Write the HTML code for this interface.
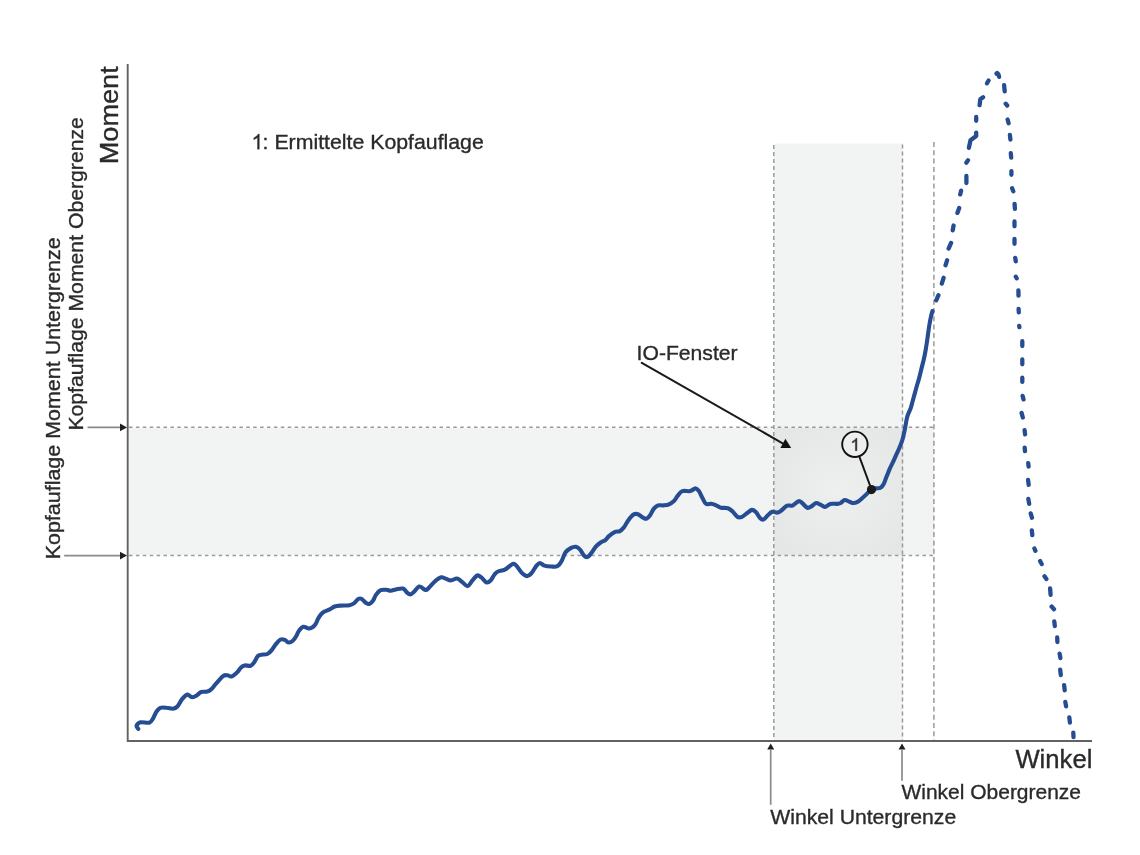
<!DOCTYPE html>
<html><head><meta charset="utf-8"><title>Kopfauflage Diagramm</title>
<style>
html,body{margin:0;padding:0;background:#fff;}
svg{display:block;will-change:transform;}
text{font-family:"Liberation Sans", sans-serif;fill:#2a2a2a;stroke:#2a2a2a;stroke-width:0.35px;}
</style></head>
<body>
<svg width="1140" height="855" viewBox="0 0 1140 855">
<rect x="0" y="0" width="1140" height="855" fill="#ffffff"/>
<!-- shaded bands -->
<rect x="129" y="428" width="805" height="127" fill="#f2f3f3"/>
<rect x="774" y="143.5" width="129" height="597" fill="#f2f3f3"/>
<defs><radialGradient id="ig" cx="0.5" cy="0.5" r="0.62"><stop offset="0" stop-color="#eeefef"/><stop offset="1" stop-color="#e5e6e6"/></radialGradient></defs>
<rect x="774" y="428" width="129" height="127" fill="url(#ig)"/>
<!-- dashed limit lines -->
<g stroke="#9a9a9a" stroke-width="1.5" fill="none">
<line x1="129" y1="427.3" x2="934" y2="427.3" stroke-dasharray="3.5 3.4"/>
<line x1="129" y1="555.6" x2="934" y2="555.6" stroke-dasharray="3.5 3.4"/>
<line x1="773.8" y1="145" x2="773.8" y2="740" stroke-dasharray="4 3"/>
<line x1="902.5" y1="144.5" x2="902.5" y2="740" stroke-dasharray="4 3"/>
<line x1="933.9" y1="142" x2="933.9" y2="740" stroke-dasharray="5 3.3"/>
</g>
<!-- axes -->
<g stroke="#626262" stroke-width="1.9" fill="none">
<line x1="127.7" y1="64" x2="127.7" y2="742"/>
<line x1="127" y1="741" x2="1092" y2="741"/>
</g>
<!-- left arrows -->
<g stroke="#8a8a8a" stroke-width="1.9" fill="none">
<line x1="87.5" y1="427.4" x2="121" y2="427.4"/>
<line x1="64.2" y1="555.6" x2="121" y2="555.6"/>
</g>
<g fill="#1e1e1e">
<polygon points="120,423.6 127,427.4 120,431.2"/>
<polygon points="120,551.8 127,555.6 120,559.4"/>
<!-- bottom arrows -->
<polygon points="770.7,743.4 767.2,749.6 774.2,749.6"/>
<polygon points="902,743.4 898.5,749.6 905.5,749.6"/>
</g>
<g stroke="#8a8a8a" stroke-width="1.7">
<line x1="770.7" y1="749" x2="770.7" y2="804.8"/>
<line x1="902" y1="749" x2="902" y2="780.8"/>
</g>
<!-- curve -->
<path d="M138.3,728.9 C138.0,728.4 136.2,726.9 136.6,725.8 C137.0,724.7 138.4,722.8 140.5,722.3 C142.6,721.8 147.2,723.3 149.3,722.7 C151.4,722.1 151.6,720.6 152.8,718.8 C154.0,717.0 155.1,713.6 156.3,711.8 C157.6,710.0 158.6,708.5 160.3,707.8 C162.1,707.1 164.7,707.6 166.8,707.8 C168.9,707.9 171.2,708.9 173.0,708.7 C174.8,708.5 175.9,708.0 177.4,706.5 C178.9,705.0 180.4,701.4 181.8,699.5 C183.2,697.6 185.1,695.9 186.1,695.1 C187.1,694.3 186.9,694.2 187.9,694.6 C188.9,695.0 190.8,697.1 192.3,697.3 C193.8,697.4 195.2,696.4 196.7,695.5 C198.2,694.6 199.3,692.6 201.1,692.0 C202.8,691.4 205.5,692.0 207.2,691.6 C208.9,691.2 209.6,690.7 211.1,689.4 C212.6,688.1 214.0,685.9 216.0,683.7 C218.0,681.5 221.1,677.6 223.0,676.2 C224.9,674.8 226.0,675.2 227.4,675.2 C228.8,675.2 229.7,677.0 231.4,676.5 C233.1,676.0 235.9,673.4 237.5,671.9 C239.1,670.4 239.8,668.6 241.0,667.5 C242.2,666.4 243.0,665.7 244.6,665.4 C246.2,665.1 249.1,666.3 250.7,665.8 C252.3,665.3 253.0,663.9 254.2,662.3 C255.4,660.7 256.5,657.4 257.7,656.1 C258.9,654.9 259.6,655.1 261.2,654.8 C262.8,654.4 265.6,654.8 267.4,654.0 C269.2,653.2 270.4,651.7 271.8,650.0 C273.2,648.3 274.7,645.6 276.1,643.9 C277.6,642.1 279.0,640.2 280.5,639.5 C282.0,638.8 283.6,639.4 284.9,639.9 C286.2,640.4 287.1,642.4 288.4,642.5 C289.7,642.6 291.5,641.9 292.8,640.8 C294.1,639.7 295.3,637.7 296.3,636.0 C297.3,634.3 297.8,632.2 299.0,630.7 C300.2,629.2 301.7,627.2 303.3,626.8 C304.9,626.4 307.1,628.4 308.6,628.5 C310.1,628.6 310.9,628.2 312.1,627.5 C313.3,626.8 314.6,625.6 315.6,624.1 C316.6,622.6 317.3,620.1 318.2,618.5 C319.1,616.9 320.0,615.4 321.0,614.3 C322.0,613.2 322.5,612.7 324.0,611.8 C325.5,610.9 328.4,610.0 330.2,609.1 C332.0,608.2 332.9,607.1 334.6,606.5 C336.4,605.9 338.2,605.8 340.7,605.6 C343.2,605.4 347.3,605.6 349.5,605.2 C351.7,604.8 352.4,604.4 353.9,603.4 C355.3,602.4 356.9,599.7 358.2,599.0 C359.5,598.3 360.5,598.3 361.8,599.0 C363.1,599.7 364.8,602.2 366.1,603.0 C367.4,603.8 368.4,604.3 369.6,603.9 C370.8,603.5 372.2,601.9 373.2,600.4 C374.2,598.9 374.6,596.8 375.8,595.1 C377.0,593.4 378.4,591.2 380.2,590.3 C381.9,589.4 384.6,589.7 386.3,589.8 C388.1,589.9 389.1,590.8 390.7,590.7 C392.3,590.6 393.9,589.8 396.0,589.4 C398.1,589.0 401.2,588.1 403.0,588.6 C404.8,589.1 405.8,591.6 407.0,592.6 C408.2,593.6 409.3,594.5 410.5,594.4 C411.7,594.3 412.5,593.1 414.0,591.8 C415.5,590.5 417.4,586.8 419.3,586.5 C421.2,586.2 423.8,589.8 425.4,590.0 C427.0,590.2 427.3,589.3 428.9,587.8 C430.5,586.3 433.1,583.0 435.1,581.2 C437.2,579.5 439.4,577.7 441.2,577.3 C442.9,576.9 444.0,578.1 445.6,578.6 C447.2,579.1 449.0,580.4 450.9,580.4 C452.8,580.4 455.1,578.3 457.0,578.6 C458.9,578.9 460.6,580.9 462.3,582.1 C464.1,583.4 465.9,586.2 467.5,586.1 C469.1,586.0 470.3,583.0 471.9,581.2 C473.5,579.4 475.6,576.1 477.2,575.5 C478.8,574.9 480.0,576.5 481.6,577.7 C483.2,578.9 485.2,582.1 486.8,582.5 C488.4,582.9 489.7,581.3 491.0,580.0 C492.3,578.7 493.3,575.9 494.5,574.5 C495.7,573.1 496.3,572.3 498.0,571.5 C499.7,570.7 502.4,570.9 504.9,569.6 C507.4,568.3 510.9,564.6 512.8,563.9 C514.7,563.2 514.8,564.1 516.3,565.6 C517.8,567.1 519.9,570.9 521.6,572.6 C523.4,574.4 525.2,576.0 526.8,576.1 C528.4,576.2 529.6,575.2 531.2,573.5 C532.8,571.8 535.0,567.4 536.5,565.6 C538.0,563.9 538.7,563.0 540.0,563.0 C541.3,563.0 542.5,565.0 544.4,565.6 C546.3,566.2 549.2,566.4 551.4,566.5 C553.6,566.6 555.8,567.1 557.5,566.1 C559.2,565.1 560.6,562.7 561.9,560.4 C563.2,558.1 563.9,554.5 565.4,552.5 C566.9,550.5 568.9,549.1 570.7,548.1 C572.5,547.1 574.4,546.5 576.0,546.8 C577.6,547.1 579.1,548.5 580.4,550.0 C581.7,551.5 582.7,554.3 583.9,555.5 C585.1,556.7 586.2,557.3 587.4,557.0 C588.6,556.7 589.6,555.2 591.0,553.5 C592.4,551.8 594.1,548.6 595.8,546.7 C597.5,544.8 599.4,543.4 601.0,542.3 C602.6,541.2 604.1,541.1 605.4,540.1 C606.7,539.1 607.3,537.5 608.9,536.1 C610.5,534.7 613.3,532.6 615.1,531.8 C616.9,531.0 618.0,532.0 619.5,531.3 C621.0,530.6 622.4,529.2 623.9,527.4 C625.4,525.6 626.6,522.5 628.2,520.4 C629.8,518.3 631.9,515.6 633.5,514.6 C635.1,513.6 636.3,513.7 637.9,514.2 C639.5,514.7 641.7,517.0 643.2,517.7 C644.7,518.4 645.5,519.0 646.7,518.6 C647.9,518.2 649.0,516.7 650.2,515.1 C651.4,513.5 652.4,510.5 653.7,508.9 C655.0,507.3 656.5,506.0 658.1,505.4 C659.7,504.8 661.5,505.6 663.3,505.4 C665.1,505.2 667.2,505.1 669.0,504.3 C670.8,503.5 672.7,502.1 674.2,500.7 C675.7,499.2 676.4,497.2 677.8,495.6 C679.1,494.0 680.2,491.9 682.3,491.1 C684.4,490.4 688.0,491.6 690.2,491.1 C692.4,490.7 694.0,488.4 695.4,488.4 C696.8,488.4 697.7,489.5 698.9,491.1 C700.1,492.7 701.3,496.0 702.5,498.1 C703.7,500.2 704.5,502.9 706.0,503.8 C707.5,504.8 709.6,503.6 711.2,503.8 C712.8,504.0 714.0,504.5 715.6,505.1 C717.2,505.8 718.9,507.2 720.9,507.7 C722.9,508.2 726.0,507.6 727.9,508.2 C729.8,508.8 730.7,509.8 732.3,511.2 C733.9,512.6 735.9,515.9 737.5,516.9 C739.1,517.9 740.3,517.5 741.9,516.9 C743.5,516.2 745.5,514.2 747.2,513.0 C748.9,511.8 750.5,510.0 752.0,509.9 C753.5,509.8 754.6,510.7 756.0,512.1 C757.4,513.5 758.9,517.0 760.2,518.2 C761.5,519.4 762.5,519.9 763.7,519.4 C764.9,518.9 766.2,516.8 767.6,515.5 C769.0,514.2 770.6,512.3 772.3,511.8 C773.9,511.3 775.9,512.9 777.5,512.6 C779.1,512.3 780.3,511.2 781.9,510.0 C783.5,508.8 785.4,506.3 787.2,505.6 C789.0,504.9 790.6,506.3 792.5,505.6 C794.4,504.9 797.0,501.6 798.6,501.2 C800.2,500.8 800.6,501.9 802.1,503.0 C803.6,504.1 805.8,507.3 807.4,507.8 C809.0,508.3 810.3,506.9 811.8,506.1 C813.2,505.3 814.6,503.2 816.1,503.0 C817.6,502.8 819.0,504.1 820.5,504.7 C822.0,505.3 823.3,507.0 824.9,506.9 C826.5,506.8 828.2,504.4 830.2,503.9 C832.2,503.4 835.5,504.0 837.2,503.9 C839.0,503.8 839.5,503.6 840.7,503.0 C841.9,502.4 843.1,500.2 844.6,500.0 C846.1,499.8 848.0,501.2 849.5,501.7 C851.0,502.2 852.0,503.0 853.4,503.0 C854.8,503.0 856.6,502.3 858.0,501.6 C859.4,500.9 860.0,500.1 861.6,498.7 C863.2,497.3 865.8,495.0 867.4,493.4 C869.0,491.8 870.0,489.7 871.5,488.9 C873.0,488.1 874.9,488.6 876.4,488.4 C877.9,488.2 879.3,488.4 880.5,487.7 C881.7,487.0 882.8,485.7 883.7,484.0 C884.7,482.3 885.2,479.9 886.2,477.5 C887.2,475.1 888.4,471.8 889.5,469.3 C890.6,466.8 891.6,465.0 892.7,462.7 C893.8,460.4 894.9,457.8 896.0,455.4 C897.1,452.9 898.2,450.7 899.3,448.0 C900.4,445.3 901.7,442.5 902.6,439.3 C903.5,436.1 904.1,432.8 904.9,429.0 C905.7,425.2 906.3,420.0 907.3,416.5 C908.3,413.0 909.7,411.0 910.8,407.8 C911.9,404.6 912.7,400.8 913.7,397.3 C914.7,393.8 915.7,389.9 916.6,386.8 C917.5,383.7 918.2,381.5 919.0,378.6 C919.8,375.7 920.4,372.7 921.3,369.2 C922.2,365.7 923.4,361.4 924.2,357.5 C925.1,353.6 925.7,349.6 926.4,345.5 C927.1,341.4 927.7,336.7 928.2,333.0 C928.7,329.3 929.1,326.2 929.6,323.5 C930.1,320.8 930.5,318.6 931.0,316.5 C931.5,314.4 932.2,311.9 932.5,311.0" fill="none" stroke="#264d92" stroke-width="4.1" stroke-linecap="round" stroke-linejoin="round"/>
<path d="M936.2,300.3 L938.4,295.3 M941.8,283.6 L943.6,277.8 M945.5,265.3 L947.1,260.3 M948.6,248.6 L951.1,242.9 M952.7,230.3 L953.6,225.5 M957.4,212.9 L959.2,207.9 M960.2,194.4 L961.1,190.7 M966.4,183.0 L966.4,176.0 M966.3,162.7 L968.0,160.2 M968.9,147.8 L970.5,140.2 L976.2,136.1 L976.2,132.6 M976.2,120.8 L976.2,117.0 M979.6,105.2 L980.3,99.3 L983.1,97.2 M987.0,83.3 L988.6,80.5 M996.5,73.6 L997.2,73.0 L998.4,74.2 L999.1,76.8 M1004.1,85.1 L1004.7,91.3 M1005.7,103.7 L1007.2,105.5 M1007.6,119.5 L1008.6,123.2 M1009.9,135.0 L1010.4,139.6 M1010.8,153.1 L1011.2,157.6 M1011.4,171.1 L1011.4,174.8 M1012.1,188.3 L1013.3,191.3 M1014.6,203.8 L1014.9,208.8 M1014.5,221.4 L1014.5,226.3 M1014.5,238.9 L1014.5,243.8 M1015.2,257.8 L1015.8,261.3 M1015.8,276.7 L1016.7,278.3 M1018.4,290.4 L1018.5,295.6 M1018.6,308.9 L1018.8,312.4 M1019.2,325.8 L1019.4,327.2 M1022.3,341.2 L1022.3,346.1 M1022.3,359.4 L1022.3,364.3 M1022.3,377.7 L1022.3,381.9 M1022.6,395.9 L1023.5,399.4 M1021.6,412.9 L1022.8,417.5 M1024.6,430.2 L1025.1,434.4 M1024.7,447.7 L1025.0,451.2 M1028.2,463.1 L1028.6,466.6 M1028.1,479.9 L1028.7,484.9 M1028.3,498.9 L1029.2,503.8 M1030.7,513.4 L1032.0,517.8 M1031.8,530.3 L1032.3,535.2 M1034.4,548.5 L1035.4,550.8 M1040.1,561.1 L1041.7,564.1 M1044.5,576.3 L1046.4,579.0 M1050.1,588.5 L1050.6,594.9 M1051.6,606.5 L1054.0,609.2 M1054.3,621.5 L1054.8,626.1 M1057.2,637.5 L1057.4,642.0 M1059.6,653.6 L1060.4,658.1 M1060.2,669.7 L1060.8,675.0 M1064.1,685.1 L1064.7,690.3 M1065.3,701.9 L1066.1,706.4 M1069.3,717.3 L1069.9,722.6 M1073.3,732.7 L1073.5,737.2" fill="none" stroke="#264d92" stroke-width="4.3" stroke-linecap="round" stroke-linejoin="round"/>
<!-- IO-Fenster arrow -->
<line x1="641.8" y1="362.8" x2="783.5" y2="443.8" stroke="#1a1a1a" stroke-width="2.1" stroke-linecap="round"/>
<polygon points="785.4,438.7 780.4,448.1 791.2,448.1" fill="#111"/>
<!-- callout 1 -->
<line x1="859.5" y1="457" x2="871.5" y2="489.5" stroke="#111" stroke-width="2"/>
<circle cx="854.9" cy="444.3" r="12.7" fill="#eeeeee" stroke="#111" stroke-width="1.9"/>
<circle cx="871.5" cy="489.6" r="4.6" fill="#1a1a1a"/>
<path d="M856.91,450.70 L855.40,450.70 L855.40,441.07 C854.85,441.59 853.96,442.11 853.07,442.63 L852.36,442.89 L852.36,441.43 C853.63,440.83 854.58,439.98 855.53,439.14 C855.88,438.77 856.04,438.52 855.93,438.34 L856.91,438.34 Z" fill="#2a2a2a" stroke="#2a2a2a" stroke-width="0.45"/>
<!-- labels -->
<text x="0" y="0" font-size="25" transform="translate(118.2,164.3) rotate(-90)" textLength="98" lengthAdjust="spacingAndGlyphs">Moment</text>
<text x="0" y="0" font-size="21" transform="translate(83.2,430.6) rotate(-90)" textLength="313.5" lengthAdjust="spacingAndGlyphs">Kopfauflage Moment Obergrenze</text>
<text x="0" y="0" font-size="21" transform="translate(60,559.3) rotate(-90)" textLength="322" lengthAdjust="spacingAndGlyphs">Kopfauflage Moment Untergrenze</text>
<path d="M259.32,149.20 L257.48,149.20 L257.48,137.44 C256.81,138.07 255.72,138.71 254.64,139.35 L253.78,139.66 L253.78,137.88 C255.32,137.15 256.48,136.12 257.64,135.08 C258.06,134.64 258.27,134.33 258.12,134.11 L259.32,134.11 Z" fill="#2a2a2a" stroke="#2a2a2a" stroke-width="0.35"/>
<text x="262.6" y="149.3" font-size="21" textLength="221.2" lengthAdjust="spacingAndGlyphs">: Ermittelte Kopfauflage</text>
<text x="636.6" y="359.8" font-size="21" textLength="101" lengthAdjust="spacingAndGlyphs">IO-Fenster</text>
<text x="1015.4" y="767.5" font-size="25" textLength="77" lengthAdjust="spacingAndGlyphs">Winkel</text>
<text x="901.5" y="799.2" font-size="21" textLength="179.5" lengthAdjust="spacingAndGlyphs">Winkel Obergrenze</text>
<text x="770.2" y="823.5" font-size="21" textLength="186" lengthAdjust="spacingAndGlyphs">Winkel Untergrenze</text>
</svg>
</body></html>
